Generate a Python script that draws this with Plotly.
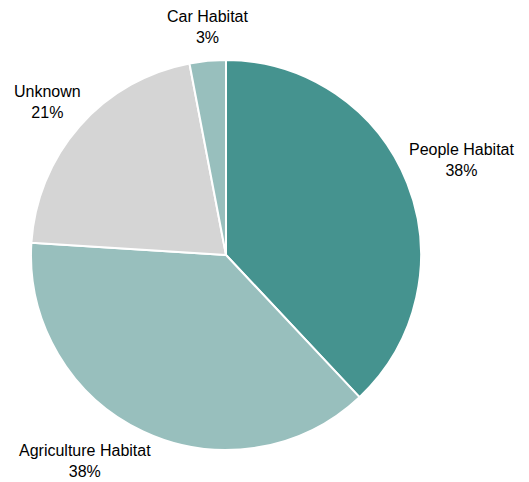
import math
import plotly.graph_objects as go

# Share of each habitat category
labels = ["People Habitat", "Agriculture Habitat", "Unknown", "Car Habitat"]
values = [38, 38, 21, 3]
colors = ["#45938F", "#98BFBD", "#D5D5D5", "#98BFBD"]

# Canvas and pie geometry (pixels)
W, H = 529, 482
CX, CY, R = 226, 255, 195
LABEL_DIST = 204  # distance from centre to the nearest corner of each label
# small per-label pixel nudges (dx right, dy down) to keep labels clear of the pie
LABEL_NUDGE = [(-9, 1), (14, 0), (10, 3), (1, -4)]

fig = go.Figure(
    go.Pie(
        labels=labels,
        values=values,
        sort=False,
        direction="clockwise",
        rotation=0,
        marker=dict(colors=colors, line=dict(color="white", width=2)),
        textinfo="none",
        hoverinfo="label+percent",
        showlegend=False,
        domain=dict(
            x=[(CX - R) / W, (CX + R) / W],
            y=[(H - CY - R) / H, (H - CY + R) / H],
        ),
    )
)

# Outside labels, anchored at each slice's mid-angle
total = sum(values)
cum = 0.0
annotations = []
for lab, val, (ndx, ndy) in zip(labels, values, LABEL_NUDGE):
    mid = (cum + val / 2) / total * 2 * math.pi  # clockwise from 12 o'clock
    cum += val
    sx, sy = math.sin(mid), math.cos(mid)
    px = CX + LABEL_DIST * sx
    py = CY - LABEL_DIST * sy
    if sx > 0.3:
        xanchor = "left"
    elif sx < -0.3:
        xanchor = "right"
    else:
        xanchor = "center"
    yanchor = "bottom" if sy > 0 else "top"
    pct = round(val / total * 100)
    annotations.append(
        dict(
            x=px / W,
            y=(H - py) / H,
            xref="paper",
            yref="paper",
            xshift=ndx,
            yshift=-ndy,
            text=f"{lab}<br>{pct}%",
            showarrow=False,
            xanchor=xanchor,
            yanchor=yanchor,
            align="center",
            font=dict(family="Liberation Sans, Arial, sans-serif", size=16, color="#000000"),
        )
    )

fig.update_layout(
    width=W,
    height=H,
    margin=dict(l=0, r=0, t=0, b=0),
    paper_bgcolor="white",
    plot_bgcolor="white",
    annotations=annotations,
)

fig.write_html("out.html")
